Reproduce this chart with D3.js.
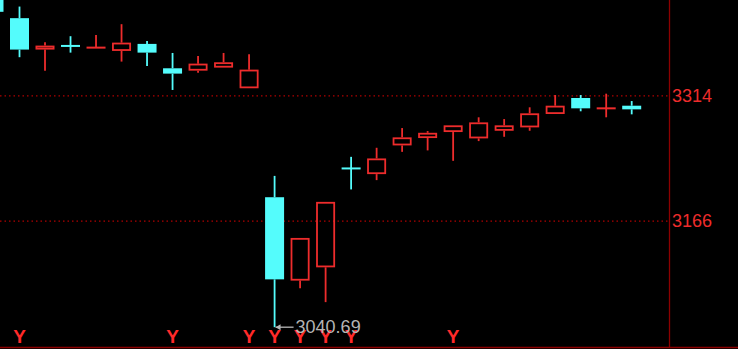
<!DOCTYPE html>
<html><head><meta charset="utf-8">
<script src="https://cdn.jsdelivr.net/npm/d3@7"></script>
<style>html,body{margin:0;padding:0;background:#000;overflow:hidden}</style>
</head><body>
<svg id="c" width="738" height="349"></svg>
<script>
// candle index -1 is partially visible at the left edge
const idx   = [-1,0,1,2,3,4,5,6,7,8,9,10,11,12,13,14,15,16,17,18,19,20,21,22,23,24];
const open  = [3433.3,3405.7,3368.6,3372.9,3370.9,3367.0,3375.3,3346.5,3343.7,3347.3,3322.9,3194.2,3095.7,3111.4,3228.2,3221.5,3255.4,3264.1,3271.2,3263.7,3272.7,3276.7,3292.5,3311.4,3299.2,3302.3];
const high  = [3441.2,3419.4,3377.3,3384.4,3385.9,3398.6,3378.8,3364.6,3361.1,3364.6,3363.1,3219.4,3146.1,3188.7,3241.9,3252.6,3275.9,3272.3,3279.1,3288.6,3286.5,3300.4,3314.9,3314.9,3316.5,3307.8];
const low   = [3410.0,3359.6,3343.7,3365.0,3370.9,3354.4,3349.3,3320.9,3341.3,3347.3,3322.9,3040.69,3086.6,3070.3,3203.4,3214.4,3247.8,3249.5,3237.2,3260.5,3265.6,3272.7,3292.5,3295.7,3288.6,3292.1];
const close = [3413.2,3368.6,3373.3,3372.9,3370.9,3376.8,3365.0,3340.2,3352.0,3353.6,3344.9,3097.2,3146.1,3188.7,3228.2,3240.0,3264.9,3270.3,3279.1,3282.6,3279.1,3293.3,3302.3,3299.2,3299.2,3298.0];
const doji  = [false,false,false,true,true,false,false,false,false,false,false,false,false,false,true,false,false,false,false,false,false,false,false,false,true,false];
const downColorIdx = [-1,0,2,5,6,10,13,22,24]; // cyan filled candles
const yTicks = [3314, 3166];
const markIdx = [0,6,9,10,11,12,13,17];
const lowLabel = "3040.69";
const lowIdx = 10;

const RED = "#ee2c2c", CYAN = "#54fcfc", DARK = "#8c0000";
const svg = d3.select("#c");
svg.append("rect").attr("width",738).attr("height",349).attr("fill","#000");

const x = d3.scaleLinear().domain([0,24]).range([19.5,631.7]);
const y = d3.scaleLinear().domain([3166,3314]).range([221.1,95.8]);
const bw = 19;

// gridlines
const g = svg.append("g");
g.selectAll("line.grid").data(yTicks).join("line")
  .attr("x1",0).attr("x2",669).attr("y1",d=>y(d)).attr("y2",d=>y(d))
  .attr("stroke","#b00000").attr("stroke-width",1.2).attr("stroke-dasharray","1.5,3");

// right axis
const axis = d3.axisRight(y).tickValues(yTicks).tickSize(0).tickPadding(3).tickFormat(d3.format("d"));
const ax = svg.append("g").attr("transform","translate(669,0)").call(axis);
ax.select(".domain").remove();
ax.selectAll("text").attr("fill",RED).attr("font-family","Liberation Sans, Arial, sans-serif").attr("font-size",18);

// borders
svg.append("line").attr("x1",669.5).attr("x2",669.5).attr("y1",0).attr("y2",347).attr("stroke",DARK).attr("stroke-width",1.3);
svg.append("line").attr("x1",0).attr("x2",738).attr("y1",347.5).attr("y2",347.5).attr("stroke",DARK).attr("stroke-width",1.5);

const data = idx.map((d,i)=>({i:d,o:open[i],h:high[i],l:low[i],c:close[i],doji:doji[i],down:downColorIdx.includes(d)}));
svg.append("clipPath").attr("id","clip").append("rect").attr("x",0).attr("y",0).attr("width",669).attr("height",347);
const cg = svg.append("g").attr("clip-path","url(#clip)");

data.forEach(d=>{
  const col = d.down ? CYAN : RED;
  const cx = x(d.i);
  const top = y(Math.max(d.o,d.c)), bot = y(Math.min(d.o,d.c));
  if (d.h > Math.max(d.o,d.c)) cg.append("line").attr("x1",cx).attr("x2",cx).attr("y1",y(d.h)).attr("y2",top).attr("stroke",col).attr("stroke-width",1.8);
  if (d.l < Math.min(d.o,d.c)) cg.append("line").attr("x1",cx).attr("x2",cx).attr("y1",bot).attr("y2",y(d.l)).attr("stroke",col).attr("stroke-width",1.8);
  if (d.doji) {
    cg.append("line").attr("x1",cx-bw/2).attr("x2",cx+bw/2).attr("y1",top).attr("y2",top).attr("stroke",col).attr("stroke-width",2);
  } else if (d.down) {
    cg.append("rect").attr("x",cx-bw/2).attr("y",top).attr("width",bw).attr("height",Math.max(1,bot-top)).attr("fill",col);
  } else {
    cg.append("rect").attr("x",cx-bw/2+0.9).attr("y",top+0.9).attr("width",bw-1.8).attr("height",Math.max(0.5,bot-top-1.8)).attr("fill","none").attr("stroke",col).attr("stroke-width",1.8);
  }
});

// Y markers
svg.selectAll("text.mk").data(markIdx).join("text").attr("class","mk")
  .attr("x",d=>x(d)).attr("y",342.5).attr("text-anchor","middle")
  .attr("font-family","Liberation Sans, Arial, sans-serif").attr("font-weight","bold").attr("font-size",19)
  .attr("fill","#ff2a2a").text("Y");

// lowest label with arrow
const lx = x(lowIdx), ly = y(low[idx.indexOf(lowIdx)]);
svg.append("line").attr("x1",lx+1).attr("x2",lx+19).attr("y1",ly).attr("y2",ly).attr("stroke","#b8b8b8").attr("stroke-width",1.3);
svg.append("path").attr("d",`M${lx+1},${ly} l5,-3 v6 z`).attr("fill","#b8b8b8");
svg.append("text").attr("x",lx+21).attr("y",ly+5.5)
  .attr("font-family","Liberation Sans, Arial, sans-serif").attr("font-size",18)
  .attr("fill","#b4b4b4").text(lowLabel);
</script>
</body></html>
